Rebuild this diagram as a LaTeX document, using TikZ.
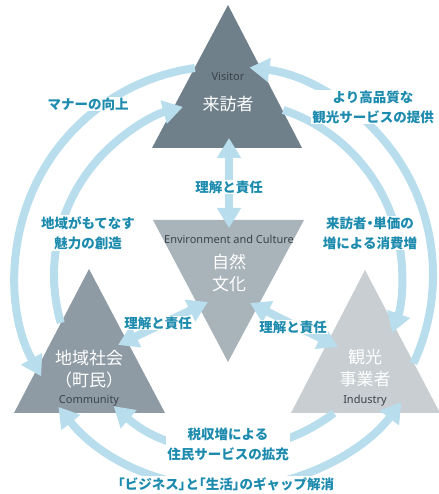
\documentclass[tikz,border=0pt]{standalone}
\usepackage{fontspec}
\setmainfont{Noto Sans}
\newfontfamily\jp{Noto Sans CJK JP}
\newfontfamily\jpp[RawFeature=+palt]{Noto Sans CJK JP}
\usetikzlibrary{arrows.meta,calc}
\definecolor{arw}{HTML}{B8DDED}
\definecolor{lbl}{HTML}{1C8BAE}
\definecolor{tV}{HTML}{6F808B}
\definecolor{tE}{HTML}{A8B3BA}
\definecolor{tC}{HTML}{8F9BA4}
\definecolor{tI}{HTML}{C8CED2}
\definecolor{eng}{HTML}{3A434A}
\begin{document}
\begin{tikzpicture}[x=1pt,y=1pt,
  tip/.tip={Triangle[width=23pt,length=20pt]},
  flow/.style={line width=8pt, draw=arw, -tip},
  both/.style={line width=8pt, draw=arw, tip-tip},
  lab/.style={text=lbl, font=\jp\bfseries\fontsize{13.5}{20}\selectfont, align=center, fill=white, inner sep=1pt},
  big/.style={text=white, font=\jp\fontsize{17}{22}\selectfont, align=center, inner sep=0pt},
  en/.style={text=eng, font=\fontsize{11}{13}\selectfont, inner sep=0pt}]
\useasboundingbox (0,0) rectangle (438,494);
% triangles
\fill[tV] (228,489) -- (302,346) -- (152,346) -- cycle;
\fill[tE] (153,274) -- (304,274) -- (228,132) -- cycle;
\fill[tC] (89,225) -- (165,81) -- (14,81) -- cycle;
\fill[tI] (365,224) -- (440,81) -- (291,81) -- cycle;
% centres of arcs
\coordinate (C1) at (224,219);
\coordinate (C2) at (228,219);
\coordinate (C3) at (228,224);
\coordinate (a1s) at ($(C1)+(98:209pt)$);
\coordinate (a2s) at ($(C1)+(-25:209pt)$);
\coordinate (a3s) at ($(C3)+(218.9:218pt)$);
\coordinate (b1s) at ($(C2)+(196:174pt)$);
\coordinate (b2s) at ($(C2)+(71.5:174pt)$);
\coordinate (b3s) at ($(C2)+(-52.5:174pt)$);
% outer arcs
\draw[flow] (a1s) arc[start angle=98, end angle=209, radius=209pt];
\draw[flow] (a2s) arc[start angle=-25, end angle=83, radius=209pt];
\draw[both] (a3s) arc[start angle=218.9, end angle=322.7, radius=218pt];
% inner arcs
\draw[flow] (b1s) arc[start angle=196, end angle=105, radius=174pt];
\draw[flow] (b2s) arc[start angle=71.5, end angle=-19.4, radius=174pt];
\draw[flow] (b3s) arc[start angle=-52.5, end angle=-131.1, radius=174pt];
% straight double arrows
\coordinate (vV) at (229,356);
\coordinate (vE) at (229,266);
\coordinate (cC) at (118,149);
\coordinate (cE) at (208,192);
\coordinate (iE) at (250,191);
\coordinate (iI) at (338,147);
\draw[both] (vV) -- (vE);
\draw[both] (cC) -- (cE);
\draw[both] (iE) -- (iI);
% triangle texts
\node[en] (Ven) at (228,417) {\textbf{V}isitor};
\node[big] (Vjp) at (228,390) {来訪者};
\node[en] (Een) at (229,255) {\textbf{E}nvironment and Culture};
\node[big] (Ejp) at (229,221) {自然\\文化};
\node[big] (Cjp) at (89,125) {地域社会\\（町民）};
\node[en] (Cen) at (89,93) {\textbf{C}ommunity};
\node[big] (Ijp) at (365,126) {観光\\事業者};
\node[en] (Ien) at (365,93) {\textbf{I}ndustry};
% labels
\node[lab] (l1) at (88,390) {マナーの向上};
\node[lab] (l2) at (373,387) {より高品質な\\観光サービスの提供};
\node[lab] (l3) at (229,307) {理解と責任};
\node[lab] (l4) at (88,261) {地域がもてなす\\魅力の創造};
\node[lab] (l5) at (370,261) {来訪者{\jpp\bfseries ・}単価の\\増による消費増};
\node[lab] (l6) at (158,171) {理解と責任};
\node[lab] (l7) at (293,167) {理解と責任};
\node[lab] (l8) at (228,50) {税収増による\\住民サービスの拡充};
\node[lab] (l9) at (226,10) {{\jpp\bfseries 「}ビジネス{\jpp\bfseries 」}と{\jpp\bfseries 「}生活{\jpp\bfseries 」}のギャップ解消};
\end{tikzpicture}
\end{document}
